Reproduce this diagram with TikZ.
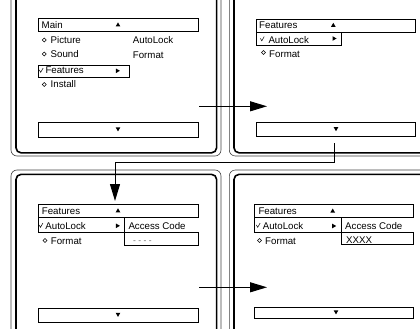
\documentclass[tikz,border=0pt]{standalone}
\usepackage{fontspec}
\setmainfont{Liberation Sans}
\usetikzlibrary{arrows.meta}
\begin{document}
\begin{tikzpicture}[x=1pt,y=-1pt,
  fin/.style={line width=1.6pt, rounded corners=5pt},
  fout/.style={line width=0.6pt, draw=black!75, rounded corners=6pt},
  mbox/.style={draw, line width=0.8pt, inner sep=0pt, anchor=north west},
  txt/.style={anchor=base west, inner sep=0pt, font=\fontsize{9.7}{11}\selectfont},
  dashtxt/.style={anchor=base west, inner sep=0pt, text=black!60, font=\fontsize{8.5}{10}\selectfont},
  conn/.style={line width=1pt, -{Triangle[length=17pt,width=10pt]}},
  uptri/.pic={\fill (-2.3,1.8)--(2.3,1.8)--(0,-2.2)--cycle;},
  dntri/.pic={\fill (-2.3,-1.8)--(2.3,-1.8)--(0,2.2)--cycle;},
  rttri/.pic={\fill (-1.8,-2.3)--(-1.8,2.3)--(2.2,0)--cycle;},
  diam/.pic={\draw[line width=0.5pt] (0,-2)--(2,0)--(0,2)--(-2,0)--cycle;},
  chk/.pic={\draw[line width=0.5pt] (-1.9,-0.6)--(-0.5,1.8)--(1.9,-2.4);},
]
\useasboundingbox (0,0) rectangle (420,329);
\clip (0,0) rectangle (420,329);

% panel frames
\draw[fout] (11,-20) rectangle (221,156);
\draw[fin]  (16,-20) rectangle (216.6,152.8);
\draw[fout] (229.3,-20) rectangle (440,156);
\draw[fin]  (234,-20) rectangle (440,152.8);
\draw[fout] (11,170) rectangle (221,350);
\draw[fin]  (16,174.4) rectangle (216.6,350);
\draw[fout] (229.3,170) rectangle (440,350);
\draw[fin]  (234,174.4) rectangle (440,350);

% ---------- top-left panel ----------
\node[mbox, minimum width=160.3pt, minimum height=12.7pt] (a-head) at (37.7,18.3) {};
\node[txt] (a-main) at (41.5,28.3) {Main};
\pic at (118,24.6) {uptri};
\pic at (44.3,40) {diam};
\node[txt] (a-pic) at (50.5,43.3) {Picture};
\pic at (44.3,54) {diam};
\node[txt] (a-snd) at (50.5,57.3) {Sound};
\node[mbox, minimum width=91.3pt, minimum height=11.5pt] (a-feat) at (37.7,65) {};
\pic at (41.2,70.5) {chk};
\node[txt] (a-feattxt) at (45.3,73.5) {Features};
\pic at (117.7,70.8) {rttri};
\pic at (44.3,84.5) {diam};
\node[txt] (a-inst) at (50.5,88) {Install};
\node[txt] (a-auto) at (132.7,44) {AutoLock};
\node[txt] (a-form) at (132.7,58.2) {Format};
\node[mbox, minimum width=160.3pt, minimum height=15pt] (a-bot) at (37.7,121.7) {};
\pic at (118,129.2) {dntri};

% ---------- top-right panel ----------
\node[mbox, minimum width=159.3pt, minimum height=12.7pt] (b-head) at (255.7,19) {};
\node[txt] (b-feat) at (259,29) {Features};
\pic at (333.3,25) {uptri};
\node[mbox, minimum width=85pt, minimum height=13.3pt] (b-auto) at (255.7,31.7) {};
\pic at (262.3,39) {chk};
\node[txt] (b-autotxt) at (268.3,43.3) {AutoLock};
\pic at (334.3,38.5) {rttri};
\pic at (263.5,52.5) {diam};
\node[txt] (b-form) at (269,57.3) {Format};
\node[mbox, minimum width=159.3pt, minimum height=14pt] (b-bot) at (255.7,122) {};
\pic at (336,129) {dntri};

% ---------- bottom-left panel ----------
\node[mbox, minimum width=160pt, minimum height=12.7pt] (c-head) at (37.7,204) {};
\node[txt] (c-feat) at (41.7,214.3) {Features};
\pic at (118,210.5) {uptri};
\node[mbox, minimum width=86.6pt, minimum height=15pt] (c-auto) at (37.7,216.7) {};
\pic at (41,225.5) {chk};
\node[txt] (c-autotxt) at (45.2,229.3) {AutoLock};
\pic at (117.7,225.8) {rttri};
\node[txt] (c-acc) at (128.3,229.3) {Access Code};
\node[mbox, minimum width=73.4pt, minimum height=13.3pt] (c-code) at (124.3,231.7) {};
\node[dashtxt] (c-dash) at (133,243.5) {- - - -};
\pic at (45,240.5) {diam};
\node[txt] (c-form) at (50.7,244) {Format};
\node[mbox, minimum width=160pt, minimum height=14pt] (c-bot) at (37.7,307.7) {};
\pic at (118,314.7) {dntri};

% ---------- bottom-right panel ----------
\node[mbox, minimum width=159pt, minimum height=13.3pt] (d-head) at (254.3,204) {};
\node[txt] (d-feat) at (258.3,214.3) {Features};
\pic at (332.7,210.7) {uptri};
\node[mbox, minimum width=86.4pt, minimum height=14.4pt] (d-auto) at (254.3,217.3) {};
\pic at (258.2,225.5) {chk};
\node[txt] (d-autotxt) at (262.6,229.3) {AutoLock};
\pic at (334,226) {rttri};
\node[txt] (d-acc) at (345,229.3) {Access Code};
\node[mbox, minimum width=72.6pt, minimum height=12.6pt] (d-code) at (340.7,231.7) {};
\node[txt] (d-xxxx) at (346,243.3) {XXXX};
\pic at (259.5,240.5) {diam};
\node[txt] (d-form) at (265,244) {Format};
\node[mbox, minimum width=159pt, minimum height=11pt] (d-bot) at (254.3,306.7) {};
\pic at (336,312.2) {dntri};

% ---------- connectors ----------
\coordinate (a1s) at (199,106.3);
\coordinate (a1e) at (267,106.3);
\draw[conn] (a1s) -- (a1e);
\coordinate (c2s) at (334.3,143);
\coordinate (c2k) at (115,162.7);
\coordinate (c2e) at (115,201);
\draw[conn] (c2s) |- (c2k) -- (c2e);
\coordinate (a3s) at (199,287.3);
\coordinate (a3e) at (267,287.3);
\draw[conn] (a3s) -- (a3e);
\end{tikzpicture}
\end{document}
